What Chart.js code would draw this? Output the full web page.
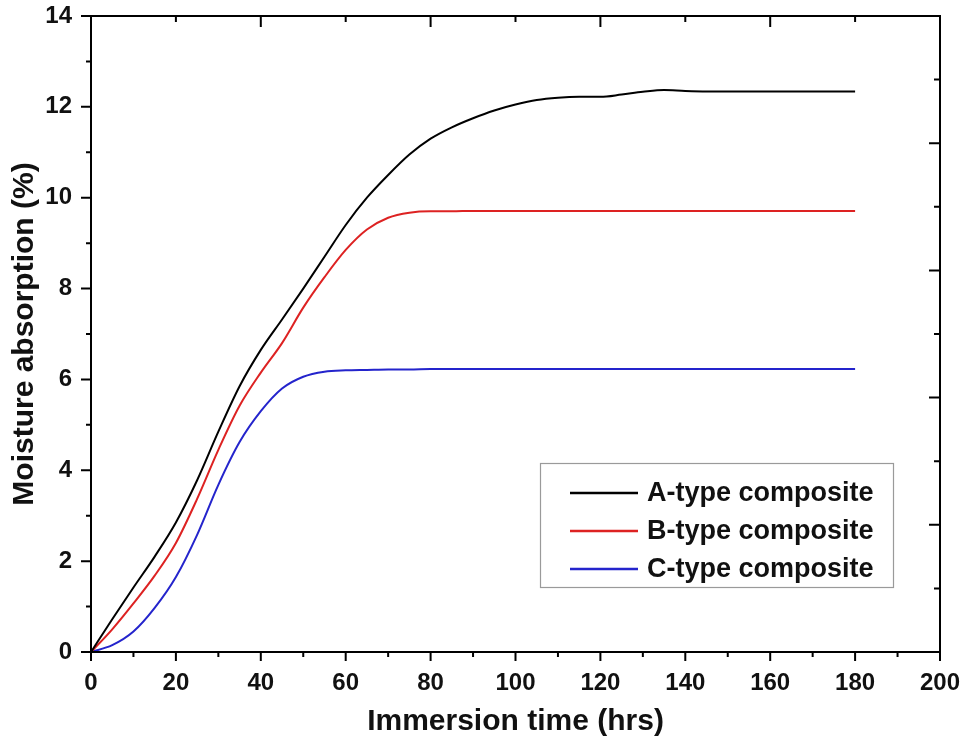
<!DOCTYPE html>
<html>
<head>
<meta charset="utf-8">
<script src="https://cdn.jsdelivr.net/npm/chart.js@4.4.1/dist/chart.umd.min.js"></script>
<style>
  html, body { margin: 0; padding: 0; background: #fff; }
  #wrap { width: 967px; height: 744px; }
</style>
</head>
<body>
<div id="wrap"><canvas id="chart" width="967" height="744"></canvas></div>
<script>
// immersion time (hrs)
const times = [0, 5, 10, 15, 20, 25, 30, 35, 40, 45, 50, 55, 60, 65, 70, 75, 80, 85, 90, 95,
               100, 105, 110, 115, 120, 125, 130, 135, 140, 145, 150, 155, 160, 165, 170, 175, 180];

// moisture absorption (%)
const typeA = [0, 0.72, 1.42, 2.1, 2.85, 3.78, 4.85, 5.85, 6.65, 7.32,
               8.0, 8.7, 9.4, 10.0, 10.5, 10.95, 11.3, 11.55, 11.75, 11.92,
               12.05, 12.15, 12.2, 12.22, 12.22, 12.27, 12.33, 12.37, 12.35,
               12.34, 12.34, 12.34, 12.34, 12.34, 12.34, 12.34, 12.34];
const typeB = [0, 0.5, 1.07, 1.68, 2.4, 3.37, 4.45, 5.42, 6.15, 6.8,
               7.58, 8.25, 8.85, 9.3, 9.56, 9.67, 9.7, 9.7, 9.71, 9.71,
               9.71, 9.71, 9.71, 9.71, 9.71, 9.71, 9.71, 9.71, 9.71,
               9.71, 9.71, 9.71, 9.71, 9.71, 9.71, 9.71, 9.71];
const typeC = [0, 0.15, 0.45, 0.97, 1.65, 2.58, 3.68, 4.62, 5.3, 5.8,
               6.06, 6.17, 6.2, 6.21, 6.22, 6.22, 6.23, 6.23, 6.23, 6.23,
               6.23, 6.23, 6.23, 6.23, 6.23, 6.23, 6.23, 6.23, 6.23,
               6.23, 6.23, 6.23, 6.23, 6.23, 6.23, 6.23, 6.23];

const seriesLabels = ["A-type composite", "B-type composite", "C-type composite"];
const seriesColors = ["#000000", "#dd2222", "#2424cc"];

const xTicks = [0, 20, 40, 60, 80, 100, 120, 140, 160, 180, 200];
const yTicks = [0, 2, 4, 6, 8, 10, 12, 14];

function toPoints(values) {
    return times.map((t, i) => ({ x: t, y: values[i] }));
}

const FONT = "'Liberation Sans', Arial, sans-serif";

// frame, tick marks on all four sides and the boxed legend
const framePlugin = {
    id: "frame",
    afterDraw(chart) {
        const c = chart.ctx;
        const { left, right, top, bottom } = chart.chartArea;
        const xs = chart.scales.x;
        const ys = chart.scales.y;
        c.save();
        c.strokeStyle = "#000";
        c.lineWidth = 2;
        c.strokeRect(left, top, right - left, bottom - top);

        c.beginPath();
        // bottom: outward, major 20 / minor 10
        for (let v = 0; v <= 200; v += 10) {
            const px = xs.getPixelForValue(v);
            const len = v % 20 === 0 ? 9 : 5;
            c.moveTo(px, bottom); c.lineTo(px, bottom + len);
        }
        // left: outward, major 2 / minor 1
        for (let v = 0; v <= 14; v += 1) {
            const py = ys.getPixelForValue(v);
            const len = v % 2 === 0 ? 10 : 5;
            c.moveTo(left, py); c.lineTo(left - len, py);
        }
        // top: inward, ten divisions
        for (let i = 1; i < 10; i++) {
            const px = xs.getPixelForValue(i * 20);
            const len = i % 2 === 0 ? 11 : 6;
            c.moveTo(px, top); c.lineTo(px, top + len);
        }
        // right: inward, ten divisions
        for (let i = 1; i < 10; i++) {
            const py = ys.getPixelForValue(i * 1.4);
            const len = i % 2 === 0 ? 11 : 6;
            c.moveTo(right, py); c.lineTo(right - len, py);
        }
        c.stroke();

        // legend
        c.strokeStyle = "#9a9a9a";
        c.lineWidth = 1.2;
        c.strokeRect(540.5, 463.5, 353, 124);
        const rows = [493, 531, 569];
        c.font = "bold 27px " + FONT;
        c.textBaseline = "middle";
        c.textAlign = "left";
        chart.data.datasets.forEach((ds, i) => {
            c.strokeStyle = ds.borderColor;
            c.lineWidth = 2.5;
            c.beginPath();
            c.moveTo(570, rows[i]); c.lineTo(638, rows[i]);
            c.stroke();
            c.fillStyle = "#111";
            c.fillText(ds.label, 647, rows[i] + 1);
        });
        c.restore();
    }
};

const ctx = document.getElementById("chart");
const graph = new Chart(ctx, {
    type: "line",
    data: {
        datasets: [typeA, typeB, typeC].map((vals, i) => ({
            label: seriesLabels[i],
            data: toPoints(vals),
            borderColor: seriesColors[i],
            backgroundColor: seriesColors[i],
            borderWidth: 2,
            pointRadius: 0,
            cubicInterpolationMode: "monotone",
            fill: false
        }))
    },
    options: {
        responsive: false,
        animation: false,
        layout: { padding: { left: 7, right: 27, top: 16, bottom: 4 } },
        plugins: {
            legend: { display: false },
            tooltip: { enabled: false }
        },
        scales: {
            x: {
                type: "linear",
                min: 0,
                max: 200,
                afterFit: (s) => {
                    s.height = 88;
                    s.paddingLeft = 0;
                    s.paddingRight = 0;
                },
                afterBuildTicks: (s) => { s.ticks = xTicks.map(v => ({ value: v })); },
                grid: { display: false, drawTicks: false },
                border: { display: false },
                ticks: {
                    color: "#111",
                    padding: 17,
                    maxRotation: 0,
                    font: { family: FONT, size: 24, weight: "bold" }
                },
                title: {
                    display: true,
                    text: "Immersion time (hrs)",
                    color: "#111",
                    padding: 0,
                    font: { family: FONT, size: 30, weight: "bold" }
                }
            },
            y: {
                min: 0,
                max: 14,
                afterFit: (s) => {
                    s.width = 84;
                    s.paddingTop = 0;
                    s.paddingBottom = 0;
                },
                afterBuildTicks: (s) => { s.ticks = yTicks.map(v => ({ value: v })); },
                grid: { display: false, drawTicks: false },
                border: { display: false },
                ticks: {
                    color: "#111",
                    padding: 19,
                    font: { family: FONT, size: 24, weight: "bold" }
                },
                title: {
                    display: true,
                    text: "Moisture absorption (%)",
                    color: "#111",
                    padding: 0,
                    font: { family: FONT, size: 30, weight: "bold" }
                }
            }
        }
    },
    plugins: [framePlugin]
});
</script>
</body>
</html>
